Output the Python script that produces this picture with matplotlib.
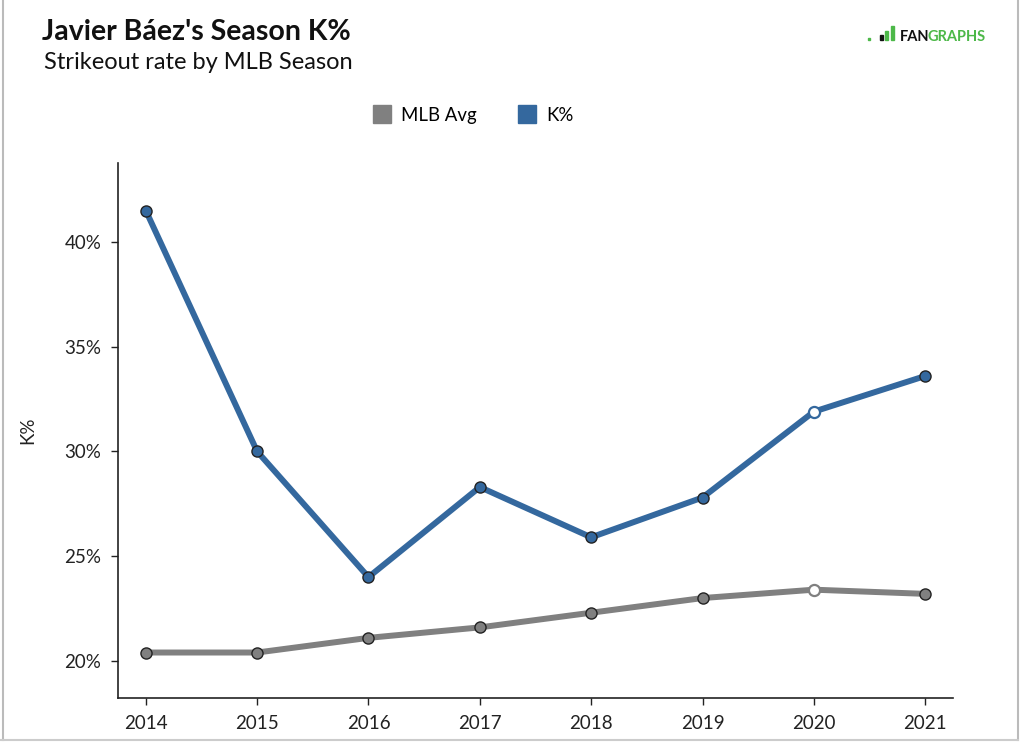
import matplotlib.pyplot as plt
from matplotlib.lines import Line2D
from matplotlib.patches import Rectangle
from matplotlib.ticker import FuncFormatter

plt.rcParams['font.family'] = ['Lato', 'DejaVu Sans']

seasons = [2014, 2015, 2016, 2017, 2018, 2019, 2020, 2021]
k_pct = [41.5, 30.0, 24.0, 28.3, 25.9, 27.8, 31.9, 33.6]
mlb_avg = [20.4, 20.4, 21.1, 21.6, 22.3, 23.0, 23.4, 23.2]
hollow_season = 2020  # shortened season, drawn with open markers

blue = '#34689e'
gray = '#808080'

fig = plt.figure(figsize=(10.24, 7.43), dpi=100)
ax = fig.add_axes([0.1152, 0.0606, 0.8155, 0.72])


def draw_series(vals, color, z):
    ax.plot(seasons, vals, color=color, lw=4.3, solid_capstyle='round', zorder=z)
    for s, v in zip(seasons, vals):
        if s == hollow_season:
            ax.plot(s, v, 'o', ms=8, mfc='white', mec=color, mew=1.6, zorder=z + 1)
        else:
            ax.plot(s, v, 'o', ms=8, mfc=color, mec='#222222', mew=1.0, zorder=z + 1)


draw_series(mlb_avg, gray, 2)
draw_series(k_pct, blue, 4)

ax.set_xlim(2013.75, 2021.25)
ax.set_ylim(18.23, 43.77)
ax.set_xticks(seasons)
ax.set_yticks([20, 25, 30, 35, 40])
ax.yaxis.set_major_formatter(FuncFormatter(lambda v, p: f'{v:.0f}%'))
ax.tick_params(labelsize=13.5, length=5, width=1, color='#222222', labelcolor='#222222', pad=7)
for side in ['top', 'right']:
    ax.spines[side].set_visible(False)
for side in ['left', 'bottom']:
    ax.spines[side].set_linewidth(1.2)
    ax.spines[side].set_color('#222222')
ax.set_ylabel('K%', fontsize=13.5, color='#222222', labelpad=20)

# titles
fig.text(0.041, 0.946, "Javier Báez's Season K%", fontsize=20.5, fontweight='bold', color='#111111', va='baseline')
fig.text(0.043, 0.907, 'Strikeout rate by MLB Season', fontsize=17, color='#111111', va='baseline')

# legend
handles = [Line2D([], [], ls='', marker='s', ms=13, mfc=gray, mec=gray, label='MLB Avg'),
           Line2D([], [], ls='', marker='s', ms=13, mfc=blue, mec=blue, label='K%')]
fig.legend(handles=handles, loc='center', bbox_to_anchor=(0.462, 0.845), ncol=2, frameon=False,
           fontsize=13.4, handletextpad=0.55, columnspacing=2.2, handlelength=1.0)

# logo
fig.text(0.879, 0.945, 'FAN', fontsize=10.5, fontweight='bold', color='#111111', va='baseline')
fig.text(0.906, 0.945, 'GRAPHS', fontsize=10.5, fontweight='bold', color='#4cb848', va='baseline')
fig.add_artist(Rectangle((0.8475, 0.9455), 0.002, 0.003, transform=fig.transFigure, color='#4cb848'))
for i, h in enumerate([0.008, 0.013, 0.019]):
    fig.add_artist(Rectangle((0.859 + i * 0.0055, 0.9455), 0.003, h, transform=fig.transFigure,
                             color='#4cb848' if i else '#111111'))

# page frame
fig.add_artist(Line2D([0.003, 0.003], [0.004, 1], transform=fig.transFigure, color='#bbbbbb', lw=1.5))
fig.add_artist(Line2D([0.994, 0.994], [0.004, 1], transform=fig.transFigure, color='#bbbbbb', lw=1.5))
fig.add_artist(Line2D([0.0, 0.994], [0.004, 0.004], transform=fig.transFigure, color='#cccccc', lw=1.5))

fig.savefig('out.png', dpi=100, facecolor='white')
